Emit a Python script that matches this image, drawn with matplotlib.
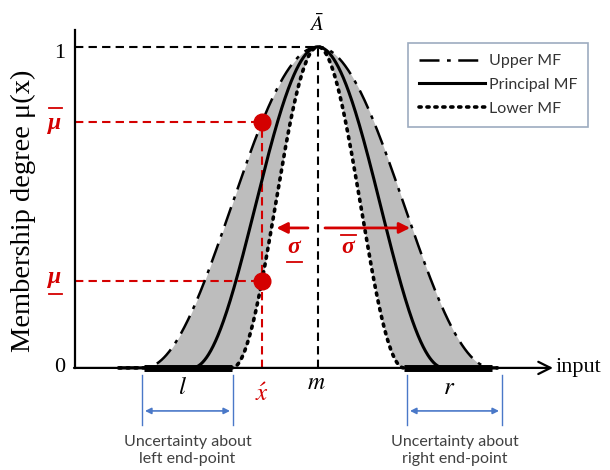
import numpy as np
import matplotlib.pyplot as plt

plt.rcParams['mathtext.fontset'] = 'stix'

# ---- data (input axis in arbitrary units, membership in [0, 1])
m = 318.0                    # centre of the set
w_upper = 174.0              # half support of the upper MF
w_principal = 126.0          # half support of the principal MF
w_lower = 86.0               # half support of the lower MF
x_prime = 262.0              # the sample input x'
sigma_level = 0.436          # height where sigma arrows are drawn
legend_labels = ["Upper MF", "Principal MF", "Lower MF"]
note_left = "Uncertainty about\nleft end-point"
note_right = "Uncertainty about\nright end-point"


def mf(x, c, w):
    d = np.clip(np.abs(x - c) / w, 0, 1)
    return 0.5 * (1 + np.cos(np.pi * d))


red = '#d40000'
blue = '#4a78c8'
serif = 'Liberation Serif'

fig = plt.figure(figsize=(6.1, 4.7), dpi=100)
ax = fig.add_axes([0, 0, 1, 1])
ax.set_xlim(0, 610)
ax.set_ylim(-0.318, 1.146)
ax.axis('off')

x = np.linspace(m - w_upper - 25, m + w_upper + 5, 800)
up = mf(x, m, w_upper)
pr = mf(x, m, w_principal)
lo = mf(x, m, w_lower)

ax.fill_between(x, lo, up, color='#bdbdbd', lw=0, zorder=1)
l_up, = ax.plot(x, up, color='black', lw=1.8, ls=(0, (8, 3, 1.5, 3)), zorder=3)
l_pr, = ax.plot(x, pr, color='black', lw=2.2, zorder=3)
l_lo, = ax.plot(x, lo, color='black', lw=2.6, ls=(0, (0.6, 1.6)),
                dash_capstyle='round', zorder=3)

# axes
ax.plot([75, 75], [0, 1.053], color='black', lw=1.6, zorder=4)
ax.annotate('', xy=(553, 0), xytext=(74, 0),
            arrowprops=dict(arrowstyle='->', lw=1.6, color='black',
                            mutation_scale=22, shrinkA=0, shrinkB=0), zorder=4)
ax.text(556, 0, 'input', family=serif, fontsize=16, va='center', ha='left')
ax.text(60, 0, '0', family=serif, fontsize=16, va='center', ha='center')
ax.text(60, 0.98, '1', family=serif, fontsize=16, va='center', ha='center')
ax.text(23, 0.49, 'Membership degree μ(x)', family=serif, fontsize=20.5,
        rotation=90, va='center', ha='center')

# uncertain end-point regions on the axis
ax.plot([m - w_upper, m - w_lower], [0, 0], color='black', lw=5,
        solid_capstyle='butt', zorder=5)
ax.plot([m + w_lower, m + w_upper], [0, 0], color='black', lw=5,
        solid_capstyle='butt', zorder=5)

# peak guides
ax.plot([75, m], [1, 1], color='black', lw=1.5, ls=(0, (4, 2.5)), zorder=2)
ax.plot([m, m], [0, 1], color='black', lw=1.5, ls=(0, (4, 2.5)), zorder=2)
ax.text(m - 2, 1.07, r'$\bar{A}$', fontsize=15, ha='center', va='center')
ax.text(m - 2, -0.045, r'$m$', fontsize=17, ha='center', va='center')

# membership grades at x'
mu_hi = mf(x_prime, m, w_upper)
mu_lo = mf(x_prime, m, w_lower)
for mu in (mu_hi, mu_lo):
    ax.plot([75, x_prime], [mu, mu], color=red, lw=1.5, ls=(0, (4, 2.5)), zorder=2)
    ax.plot(x_prime, mu, 'o', color=red, ms=12, zorder=6)
ax.plot([x_prime, x_prime], [0, mu_hi], color=red, lw=1.5, ls=(0, (4, 2.5)), zorder=2)
ax.text(x_prime, -0.08, r'$\acute{x}$', color=red, fontsize=18, ha='center', va='center')

ax.text(55, mu_hi - 0.005, 'μ', color=red, family=serif, fontsize=17,
        fontweight='bold', style='italic', ha='center', va='center')
ax.plot([49, 62], [mu_hi + 0.045, mu_hi + 0.045], color=red, lw=1.3)
ax.text(55, mu_lo + 0.01, 'μ', color=red, family=serif, fontsize=17,
        fontweight='bold', style='italic', ha='center', va='center')
ax.plot([49, 62], [mu_lo - 0.04, mu_lo - 0.04], color=red, lw=1.3)

# sigma arrows
x_lo_s = m - w_lower * np.arccos(2 * sigma_level - 1) / np.pi
x_up_s = m + w_upper * np.arccos(2 * sigma_level - 1) / np.pi
ax.annotate('', xy=(x_lo_s + 5, sigma_level), xytext=(m - 10, sigma_level),
            arrowprops=dict(arrowstyle='-|>', lw=2, color=red, mutation_scale=16,
                            shrinkA=0, shrinkB=0), zorder=6)
ax.annotate('', xy=(x_up_s - 2, sigma_level), xytext=(m + 7, sigma_level),
            arrowprops=dict(arrowstyle='-|>', lw=2, color=red, mutation_scale=16,
                            shrinkA=0, shrinkB=0), zorder=6)
ax.text(294, sigma_level - 0.06, 'σ', color=red, family=serif, fontsize=17,
        fontweight='bold', style='italic', ha='center', va='center', zorder=6)
ax.plot([287, 302], [sigma_level - 0.105, sigma_level - 0.105], color=red, lw=1.3, zorder=6)
ax.text(348, sigma_level - 0.06, 'σ', color=red, family=serif, fontsize=17,
        fontweight='bold', style='italic', ha='center', va='center', zorder=6)
ax.plot([341, 356], [sigma_level - 0.022, sigma_level - 0.022], color=red, lw=1.3, zorder=6)

# blue uncertainty spans
for a, b, lab, note in ((m - w_upper - 2, m - w_lower + 1, r'$l$', note_left),
                        (m + w_lower + 3, m + w_upper + 10, r'$r$', note_right)):
    for xx in (a, b):
        ax.plot([xx, xx], [-0.022, -0.178], color=blue, lw=1.0)
    ax.annotate('', xy=(b - 3, -0.134), xytext=(a + 3, -0.134),
                arrowprops=dict(arrowstyle='<|-|>', lw=1.2, color=blue,
                                mutation_scale=9, shrinkA=0, shrinkB=0))
    ax.text((a + b) / 2 - 5, -0.06, lab, fontsize=18, ha='center', va='center')
    ax.text((a + b) / 2, -0.258, note, family='Lato', fontsize=11.5,
            color='#404040', ha='center', va='center', linespacing=1.3)

leg = fig.legend([l_up, l_pr, l_lo], legend_labels, loc='upper left',
                 bbox_to_anchor=(0.669, 0.909), frameon=True, fancybox=False,
                 edgecolor='#8497b0', prop={'family': 'Lato', 'size': 11.5},
                 handlelength=4.1, labelspacing=0.6, borderpad=0.7,
                 handletextpad=0.25, borderaxespad=0)
for t in leg.get_texts():
    t.set_color('#333333')
leg.get_frame().set_linewidth(1.2)

fig.savefig('out.png', dpi=100)
